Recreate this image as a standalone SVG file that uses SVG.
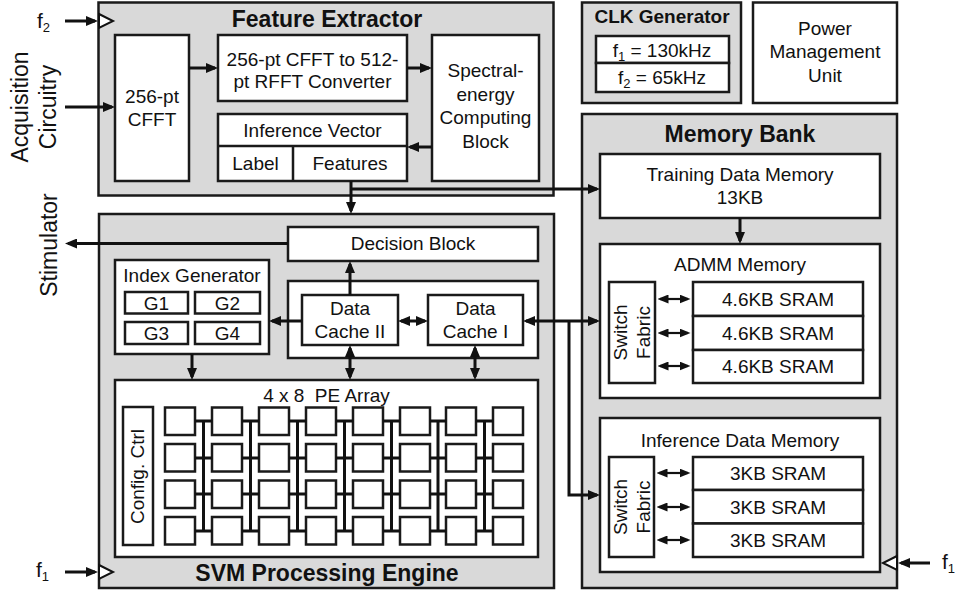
<svg xmlns="http://www.w3.org/2000/svg" width="959" height="593" viewBox="0 0 959 593">
<defs>
<style>
.blk{fill:#d9d9d9;stroke:#1a1a1a;stroke-width:2.5}
.box{fill:#fff;stroke:#1a1a1a;stroke-width:2.5}
.dv{fill:none;stroke:#1a1a1a;stroke-width:2.5}
text{font-family:"Liberation Sans",Arial,sans-serif;font-size:19px;fill:#111;text-anchor:middle}
.title{font-weight:bold;font-size:23px}
.ctitle{font-weight:bold;font-size:19px}
.side{font-size:23px}
.fl{font-size:21px;text-anchor:start}
.sub{font-size:13px}
.ln{fill:none;stroke:#111;stroke-width:3}
.arr{fill:none;stroke:#111;stroke-width:3;marker-end:url(#ah)}
.dbl{fill:none;stroke:#111;stroke-width:3;marker-start:url(#ah);marker-end:url(#ah)}
.sdbl{fill:none;stroke:#111;stroke-width:2.2;marker-start:url(#ahs);marker-end:url(#ahs)}
.clk{fill:#fff;stroke:#111;stroke-width:2}
</style>
<marker id="ah" viewBox="0 0 12 10" refX="9" refY="5" markerWidth="12" markerHeight="10" markerUnits="userSpaceOnUse" orient="auto-start-reverse"><path d="M0,0L12,5L0,10z" fill="#111"/></marker>
<marker id="ahs" viewBox="0 0 11 9" refX="8.5" refY="4.5" markerWidth="11" markerHeight="9" markerUnits="userSpaceOnUse" orient="auto-start-reverse"><path d="M0,0L11,4.5L0,9z" fill="#111"/></marker>
</defs>

<!-- Side labels -->
<g id="labels">
<text class="side" transform="translate(28,107) rotate(-90)">Acquisition</text>
<text class="side" transform="translate(56,107) rotate(-90)">Circuitry</text>
<text class="side" transform="translate(57,245) rotate(-90)">Stimulator</text>
<text class="fl" x="37" y="28">f<tspan class="sub" dy="4">2</tspan></text>
<text class="fl" x="36" y="577">f<tspan class="sub" dy="4">1</tspan></text>
<text class="fl" x="942" y="569">f<tspan class="sub" dy="4">1</tspan></text>
</g>

<!-- Feature Extractor -->
<g id="feature-extractor">
<rect class="blk" x="98.5" y="2.5" width="455" height="193"/>
<text class="title" x="327" y="27">Feature Extractor</text>
<polygon class="clk" points="99,14 113,21 99,28"/>
<g id="cfft">
<rect class="box" x="115" y="35" width="74" height="146"/>
<text x="152" y="103">256-pt</text>
<text x="152" y="126">CFFT</text>
</g>
<g id="converter">
<rect class="box" x="218" y="35" width="189" height="66"/>
<text x="312.5" y="66">256-pt CFFT to 512-</text>
<text x="312.5" y="88">pt RFFT Converter</text>
</g>
<g id="spectral">
<rect class="box" x="432" y="35" width="107" height="146"/>
<text x="485.5" y="77">Spectral-</text>
<text x="485.5" y="100.5">energy</text>
<text x="485.5" y="124">Computing</text>
<text x="485.5" y="147.5">Block</text>
</g>
<g id="inference-vector">
<rect class="box" x="218" y="114" width="189" height="67"/>
<path class="dv" d="M218,146H407M293,146V181"/>
<text x="312.5" y="137">Inference Vector</text>
<text x="255.5" y="170">Label</text>
<text x="350" y="170">Features</text>
</g>
</g>

<!-- CLK Generator -->
<g id="clk-generator">
<rect class="blk" x="582" y="2.5" width="159" height="100.5"/>
<text class="ctitle" x="662" y="23">CLK Generator</text>
<rect class="box" x="596" y="36" width="133" height="27"/>
<rect class="box" x="596" y="63" width="133" height="29"/>
<text x="662" y="57">f<tspan class="sub" dy="4">1</tspan><tspan dy="-4"> = 130kHz</tspan></text>
<text x="662" y="84">f<tspan class="sub" dy="4">2</tspan><tspan dy="-4"> = 65kHz</tspan></text>
</g>

<!-- Power Management Unit -->
<g id="pmu">
<rect class="box" x="753" y="2.5" width="144" height="100.5"/>
<text x="825" y="35">Power</text>
<text x="825" y="58">Management</text>
<text x="825" y="82">Unit</text>
</g>

<!-- SVM Processing Engine -->
<g id="svm-engine">
<rect class="blk" x="99" y="214" width="455" height="374"/>
<text class="title" x="327" y="581">SVM Processing Engine</text>
<polygon class="clk" points="99,565 113,572 99,579"/>
<g id="decision-block">
<rect class="box" x="288" y="227" width="250" height="34"/>
<text x="413" y="250">Decision Block</text>
</g>
<g id="index-generator">
<rect class="box" x="115" y="260" width="154" height="94"/>
<text x="192" y="282">Index Generator</text>
<rect class="box" x="125" y="292" width="63" height="21.5"/>
<rect class="box" x="195" y="292" width="65" height="21.5"/>
<rect class="box" x="125" y="322" width="63" height="22"/>
<rect class="box" x="195" y="322" width="65" height="22"/>
<text x="156.5" y="309.5">G1</text>
<text x="227.5" y="309.5">G2</text>
<text x="156.5" y="340">G3</text>
<text x="227.5" y="340">G4</text>
</g>
<g id="data-cache">
<rect class="box" x="288" y="281" width="250" height="77"/>
<rect class="box" x="302" y="295" width="96" height="50"/>
<rect class="box" x="428" y="295" width="95" height="50"/>
<text x="350" y="315">Data</text>
<text x="350" y="338">Cache II</text>
<text x="475.5" y="315">Data</text>
<text x="475.5" y="338">Cache I</text>
</g>
<g id="pe-array">
<rect class="box" x="115" y="380" width="423" height="177"/>
<text x="326.5" y="401.5" xml:space="preserve">4 x 8  PE Array</text>
<rect class="box" x="123" y="407" width="30" height="138"/>
<text transform="translate(144,476.5) rotate(-90)">Config. Ctrl</text>
<g class="box">
<rect x="165" y="407.5" width="30" height="27.5"/><rect x="212" y="407.5" width="30" height="27.5"/><rect x="259" y="407.5" width="30" height="27.5"/><rect x="306" y="407.5" width="30" height="27.5"/><rect x="353" y="407.5" width="30" height="27.5"/><rect x="400" y="407.5" width="30" height="27.5"/><rect x="446" y="407.5" width="30" height="27.5"/><rect x="493" y="407.5" width="30" height="27.5"/>
<rect x="165" y="444" width="30" height="27.5"/><rect x="212" y="444" width="30" height="27.5"/><rect x="259" y="444" width="30" height="27.5"/><rect x="306" y="444" width="30" height="27.5"/><rect x="353" y="444" width="30" height="27.5"/><rect x="400" y="444" width="30" height="27.5"/><rect x="446" y="444" width="30" height="27.5"/><rect x="493" y="444" width="30" height="27.5"/>
<rect x="165" y="480.5" width="30" height="27.5"/><rect x="212" y="480.5" width="30" height="27.5"/><rect x="259" y="480.5" width="30" height="27.5"/><rect x="306" y="480.5" width="30" height="27.5"/><rect x="353" y="480.5" width="30" height="27.5"/><rect x="400" y="480.5" width="30" height="27.5"/><rect x="446" y="480.5" width="30" height="27.5"/><rect x="493" y="480.5" width="30" height="27.5"/>
<rect x="165" y="517" width="30" height="27.5"/><rect x="212" y="517" width="30" height="27.5"/><rect x="259" y="517" width="30" height="27.5"/><rect x="306" y="517" width="30" height="27.5"/><rect x="353" y="517" width="30" height="27.5"/><rect x="400" y="517" width="30" height="27.5"/><rect x="446" y="517" width="30" height="27.5"/><rect x="493" y="517" width="30" height="27.5"/>
</g>
<path class="ln" d="M195,421H212M195,458H212M195,494H212M195,531H212M203.5,421V531M242,421H259M242,458H259M242,494H259M242,531H259M250.5,421V531M289,421H306M289,458H306M289,494H306M289,531H306M297.5,421V531M336,421H353M336,458H353M336,494H353M336,531H353M344.5,421V531M383,421H400M383,458H400M383,494H400M383,531H400M391.5,421V531M430,421H446M430,458H446M430,494H446M430,531H446M438,421V531M476,421H493M476,458H493M476,494H493M476,531H493M484.5,421V531"/>
</g>
</g>

<!-- Memory Bank -->
<g id="memory-bank">
<rect class="blk" x="582" y="114" width="315" height="474"/>
<text class="title" x="740" y="142">Memory Bank</text>
<polygon class="clk" points="897,556 883,563 897,570"/>
<g id="training-memory">
<rect class="box" x="600" y="154" width="280" height="64"/>
<text x="740" y="181">Training Data Memory</text>
<text x="740" y="204">13KB</text>
</g>
<g id="admm-memory">
<rect class="box" x="600" y="244" width="280" height="154"/>
<text x="740" y="271">ADMM Memory</text>
<rect class="box" x="609" y="282" width="46" height="101"/>
<text transform="translate(627,332.5) rotate(-90)">Switch</text>
<text transform="translate(650,332.5) rotate(-90)">Fabric</text>
<rect class="box" x="693" y="282" width="170" height="34"/>
<rect class="box" x="693" y="316" width="170" height="34"/>
<rect class="box" x="693" y="350" width="170" height="33"/>
<text x="778" y="306">4.6KB SRAM</text>
<text x="778" y="339.5">4.6KB SRAM</text>
<text x="778" y="373">4.6KB SRAM</text>
</g>
<g id="inference-memory">
<rect class="box" x="600" y="418" width="280" height="154"/>
<text x="740" y="447">Inference Data Memory</text>
<rect class="box" x="609" y="457" width="45" height="100"/>
<text transform="translate(627,507) rotate(-90)">Switch</text>
<text transform="translate(650,507) rotate(-90)">Fabric</text>
<rect class="box" x="693" y="457" width="170" height="33"/>
<rect class="box" x="693" y="490" width="170" height="33.5"/>
<rect class="box" x="693" y="523.5" width="170" height="33.5"/>
<text x="778" y="480">3KB SRAM</text>
<text x="778" y="513.5">3KB SRAM</text>
<text x="778" y="547">3KB SRAM</text>
</g>
</g>

<!-- Connectors -->
<g id="connectors">
<path class="arr" d="M65,21H95"/>
<path class="arr" d="M65,107H112"/>
<path class="arr" d="M189,68H215"/>
<path class="arr" d="M407,68H429"/>
<path class="arr" d="M432,147H410"/>
<path class="arr" d="M351,181V211"/>
<path class="arr" d="M351,189H597"/>
<path class="arr" d="M288,243.5H68"/>
<path class="arr" d="M350,295V264"/>
<path class="arr" d="M302,321H272"/>
<path class="dbl" d="M401,321H425"/>
<path class="dbl" d="M350,348V377"/>
<path class="dbl" d="M475,348V377"/>
<path class="arr" d="M192,354V377"/>
<path class="dbl" d="M526,321H597"/>
<path class="arr" d="M569,321V495H597"/>
<path class="arr" d="M740,218V241"/>
<path class="sdbl" d="M660,299H688"/>
<path class="sdbl" d="M660,333H688"/>
<path class="sdbl" d="M660,366H688"/>
<path class="sdbl" d="M659,473H688"/>
<path class="sdbl" d="M659,507H688"/>
<path class="sdbl" d="M659,540H688"/>
<path class="arr" d="M930,563H901"/>
<path class="arr" d="M65,572H95"/>
</g>
</svg>
